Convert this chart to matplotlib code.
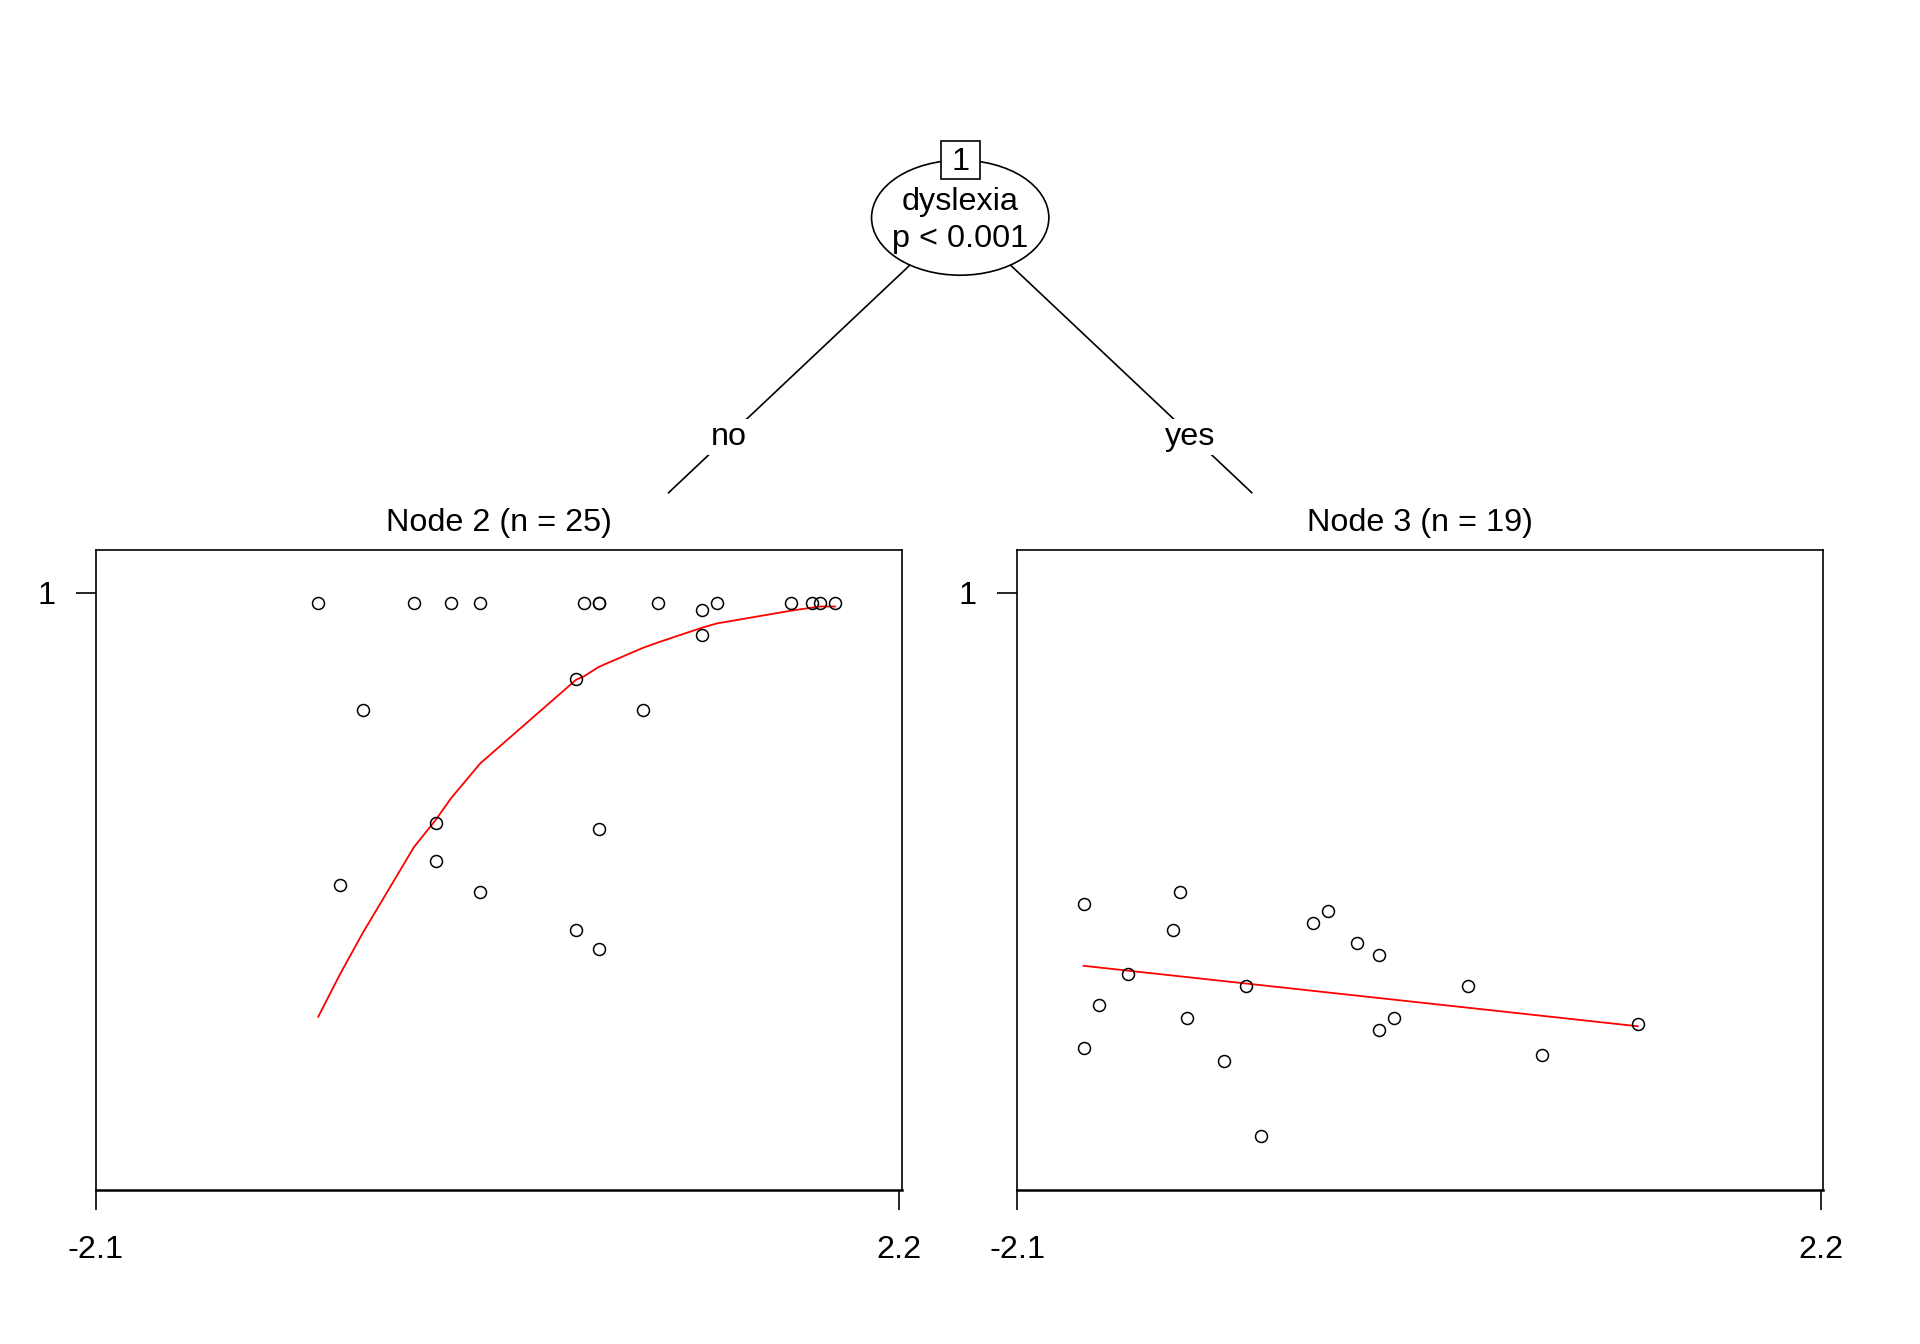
import matplotlib
matplotlib.use("Agg")
import matplotlib.pyplot as plt
from matplotlib.patches import Ellipse, Rectangle

plt.rcParams['font.family'] = ['Liberation Sans', 'DejaVu Sans']

# ---------------- data ----------------
node2_x = [-0.910, -0.398, -0.200, -0.043, 0.511, 0.591, 0.907, 1.223, 1.619, 1.735, 1.777, 1.856,
           1.144, 1.144, 0.471, -0.672, 0.828, -0.280, 0.591, -0.280, -0.794, -0.043, 0.471, 0.591, 0.591]
node2_y = [0.990, 0.990, 0.990, 0.990, 0.990, 0.990, 0.990, 0.990, 0.990, 0.990, 0.990, 0.990,
           0.984, 0.960, 0.919, 0.889, 0.889, 0.783, 0.777, 0.747, 0.724, 0.718, 0.682, 0.664, 0.990]
node2_fit_x = [-0.910, -0.794, -0.672, -0.398, -0.280, -0.200, -0.043, 0.471, 0.511, 0.591,
               0.828, 0.907, 1.144, 1.223, 1.619, 1.735, 1.777, 1.856]
node2_fit_y = [0.600, 0.640, 0.679, 0.760, 0.786, 0.806, 0.839, 0.918, 0.921, 0.930,
               0.948, 0.953, 0.967, 0.971, 0.983, 0.986, 0.987, 0.987]

node3_x = [-1.745, -1.229, -1.269, -0.519, -0.439, -0.281, -0.164, -1.506, -0.874, -1.665,
           -1.192, -0.086, -0.164, -1.745, -0.993, -0.795, 0.313, 1.221, 0.709]
node3_y = [0.706, 0.718, 0.682, 0.688, 0.700, 0.670, 0.658, 0.640, 0.629, 0.611,
           0.599, 0.599, 0.587, 0.570, 0.558, 0.487, 0.629, 0.593, 0.564]
node3_fit_x = [-1.745, 1.221]
node3_fit_y = [0.648, 0.591]

x_ticks = [-2.1, 2.2]
x_ticklabels = ["-2.1", "2.2"]
y_ticks = [1]
y_ticklabels = ["1"]

split_var = "dyslexia"
split_p = "p < 0.001"
edge_labels = ["no", "yes"]
node_titles = ["Node 2 (n = 25)", "Node 3 (n = 19)"]

# ---------------- figure ----------------
W, H = 1920, 1344
fig = plt.figure(figsize=(W / 100, H / 100), dpi=100)
FS = 23.3

XLIM = (-2.1, 2.213)
YLIM = (0.4365, 1.0403)

def make_panel(left_px, xs, ys, fx, fy, title):
    ax = fig.add_axes([left_px / W, 1 - 1190 / H, 805.7 / W, 640 / H])
    ax.plot(xs, ys, linestyle='none', marker='o', markersize=8.6,
            markerfacecolor='none', markeredgecolor='black', markeredgewidth=1.1, zorder=3)
    ax.plot(fx, fy, color='red', linewidth=1.3, zorder=2)
    ax.set_xlim(*XLIM)
    ax.set_ylim(*YLIM)
    ax.set_xticks(x_ticks)
    ax.set_xticklabels(x_ticklabels)
    ax.set_yticks(y_ticks)
    ax.set_yticklabels(y_ticklabels)
    ax.tick_params(axis='both', direction='out', length=14.4, width=1.2,
                   labelsize=FS, color='black')
    ax.tick_params(axis='x', pad=18)
    ax.tick_params(axis='y', pad=15)
    for s in ax.spines.values():
        s.set_linewidth(1.2)
    ax.spines['bottom'].set_linewidth(1.8)
    cx = (left_px + 805.7 / 2) / W
    fig.text(cx, 1 - 523 / H, title, ha='center', va='center', fontsize=FS)
    return ax

make_panel(96, node2_x, node2_y, node2_fit_x, node2_fit_y, node_titles[0])
make_panel(1017.3, node3_x, node3_y, node3_fit_x, node3_fit_y, node_titles[1])

# ---------------- tree overlay ----------------
tr = fig.add_axes([0, 0, 1, 1], zorder=5)
tr.set_xlim(0, W)
tr.set_ylim(H, 0)
tr.axis('off')
tr.patch.set_alpha(0)

cx, cy = 960.2, 217.7
tr.plot([cx, 668.6], [cy, 492.7], color='black', lw=1.2, zorder=1)
tr.plot([cx, 1251.8], [cy, 492.7], color='black', lw=1.2, zorder=1)
tr.add_patch(Ellipse((cx, cy), 177.3, 115, facecolor='white', edgecolor='black', lw=1.2, zorder=2))
tr.text(cx, 201.7, split_var, ha='center', va='center', fontsize=FS, zorder=3)
tr.text(cx, 239.5, split_p, ha='center', va='center', fontsize=FS, zorder=3)
tr.add_patch(Rectangle((cx - 19.3, 160 - 19.3), 38.6, 38.6, facecolor='white',
                       edgecolor='black', lw=1.2, zorder=4))
tr.text(cx, 161.5, "1", ha='center', va='center', fontsize=FS, zorder=5)

for lx, lab in zip([729.2, 1190.5], edge_labels):
    tr.text(lx, 436.7, lab, ha='center', va='center', fontsize=FS, zorder=3,
            bbox=dict(facecolor='white', edgecolor='none', pad=2))

fig.savefig("out.png", dpi=100)
